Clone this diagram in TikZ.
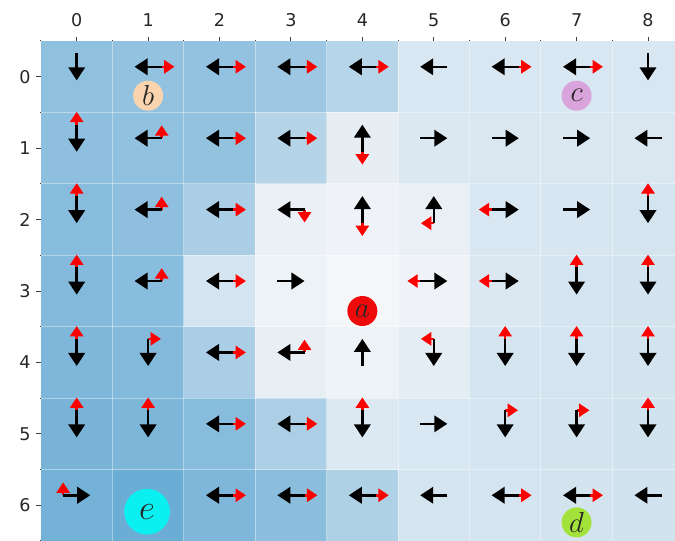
\documentclass[tikz,border=0pt]{standalone}
\usepackage{fontspec}
\setsansfont{DejaVu Sans}
\usetikzlibrary{
	arrows.meta,
	calc
}
\definecolor{valuehigh}{HTML}{6BADD5}
\definecolor{valuelow}{HTML}{F5F6F8}
\definecolor{spota}{HTML}{EE0A0A}
\definecolor{spotb}{HTML}{F9D4AE}
\definecolor{spotc}{HTML}{D9A3DC}
\definecolor{spotd}{HTML}{A3E23A}
\definecolor{spote}{HTML}{0AF0F0}
% one row of cell values: row, percents of valuehigh
\newcommand{\valuerow}[2]{%
	\foreach \p [count=\col from 0] in {#2}
		\fill[valuehigh!\p!valuelow] (\col-0.5,-#1-0.5) rectangle ++(1,1);
}
% one cell: column, row, greedy move, other moves
\newcommand{\cellmoves}[4]{%
	\coordinate (mid) at ($(#1,-#2)+(0,0.14)$);
	\coordinate (tail) at ($(mid)-0.19*(dir#3)$);
	\if\relax\detokenize{#4}\relax\else
		\foreach \m in {#4} {\draw[othermove] (tail) -- ($(tail)+0.18*(dir\m)$);}
	\fi
	\draw[bestmove] (tail) -- ($(tail)+0.38*(dir#3)$);
}

\begin{document}
\begin{tikzpicture}[
	x=1.5cm, y=1.5cm,
	bestmove/.style={-{Triangle[length=7.8pt, width=9.8pt]}, line width=1.5pt, black},
	othermove/.style={-{Triangle[length=6.2pt, width=7.8pt]}, line width=1.5pt, red},
	ticklabel/.style={font=\sffamily\fontsize{10.5}{12}\selectfont, text=black!85},
	tick/.style={line width=0.6pt, black!75},
	cellline/.style={white, opacity=0.4, line width=0.5pt},
	spot/.style={circle, inner sep=0pt, minimum size=6.3mm, font=\fontsize{19}{20}\selectfont, text=black!85}
	]
	\useasboundingbox (-1.074,-6.5) rectangle (8.378,1.075);
	\clip (-1.074,-6.5) rectangle (8.378,1.075);
	
	% Move directions
	\coordinate (dirL) at (-1,0);
	\coordinate (dirR) at (1,0);
	\coordinate (dirU) at (0,1);
	\coordinate (dirD) at (0,-1);
	
	% Value of each cell
	\valuerow{0}{74,72,72,64,45,21,21,21,21}
	\valuerow{1}{75,73,71,46,11,19,20,20,20}
	\valuerow{2}{79,75,55,8,4,9,21,22,23}
	\valuerow{3}{83,78,24,6,0,4,19,24,25}
	\valuerow{4}{86,83,55,10,6,12,23,24,25}
	\valuerow{5}{90,88,79,53,18,21,24,25,26}
	\valuerow{6}{94,100,86,77,51,23,24,25,26}
	\foreach \col in {0,...,7}
		\draw[cellline] (\col+0.5,-6.5) -- (\col+0.5,0.5);
	\foreach \row in {0,...,5}
		\draw[cellline] (-0.5,-\row-0.5) -- (8.5,-\row-0.5);
	
	% Axes
	\foreach \col in {0,...,8} {
		\draw[tick] (\col,0.5) -- (\col,0.55);
		\node[ticklabel] (top\col) at (\col,0.796) {\col};
	}
	\foreach \row in {0,...,6} {
		\draw[tick] (-0.5,-\row) -- (-0.57,-\row);
		\node[ticklabel] (left\row) at (-0.724,-\row) {\row};
	}
	\foreach \b in {-0.5,0.5,...,8.5}
		\draw[tick] (\b,0.5) -- (\b,0.515);
	\foreach \b in {-0.5,-1.5,...,-6.5}
		\draw[tick] (-0.5,\b) -- (-0.515,\b);
	
	% Moves
	\cellmoves{0}{0}{D}{} \cellmoves{1}{0}{L}{R} \cellmoves{2}{0}{L}{R}
	\cellmoves{3}{0}{L}{R} \cellmoves{4}{0}{L}{R} \cellmoves{5}{0}{L}{}
	\cellmoves{6}{0}{L}{R} \cellmoves{7}{0}{L}{R} \cellmoves{8}{0}{D}{}
	
	\cellmoves{0}{1}{D}{U} \cellmoves{1}{1}{L}{U} \cellmoves{2}{1}{L}{R}
	\cellmoves{3}{1}{L}{R} \cellmoves{4}{1}{U}{D} \cellmoves{5}{1}{R}{}
	\cellmoves{6}{1}{R}{} \cellmoves{7}{1}{R}{} \cellmoves{8}{1}{L}{}
	
	\cellmoves{0}{2}{D}{U} \cellmoves{1}{2}{L}{U} \cellmoves{2}{2}{L}{R}
	\cellmoves{3}{2}{L}{D} \cellmoves{4}{2}{U}{D} \cellmoves{5}{2}{U}{L}
	\cellmoves{6}{2}{R}{L} \cellmoves{7}{2}{R}{} \cellmoves{8}{2}{D}{U}
	
	\cellmoves{0}{3}{D}{U} \cellmoves{1}{3}{L}{U} \cellmoves{2}{3}{L}{R}
	\cellmoves{3}{3}{R}{} \cellmoves{5}{3}{R}{L}
	\cellmoves{6}{3}{R}{L} \cellmoves{7}{3}{D}{U} \cellmoves{8}{3}{D}{U}
	
	\cellmoves{0}{4}{D}{U} \cellmoves{1}{4}{D}{R} \cellmoves{2}{4}{L}{R}
	\cellmoves{3}{4}{L}{U} \cellmoves{4}{4}{U}{} \cellmoves{5}{4}{D}{L}
	\cellmoves{6}{4}{D}{U} \cellmoves{7}{4}{D}{U} \cellmoves{8}{4}{D}{U}
	
	\cellmoves{0}{5}{D}{U} \cellmoves{1}{5}{D}{U} \cellmoves{2}{5}{L}{R}
	\cellmoves{3}{5}{L}{R} \cellmoves{4}{5}{D}{U} \cellmoves{5}{5}{R}{}
	\cellmoves{6}{5}{D}{R} \cellmoves{7}{5}{D}{R} \cellmoves{8}{5}{D}{U}
	
	\cellmoves{0}{6}{R}{U} \cellmoves{2}{6}{L}{R}
	\cellmoves{3}{6}{L}{R} \cellmoves{4}{6}{L}{R} \cellmoves{5}{6}{L}{}
	\cellmoves{6}{6}{L}{R} \cellmoves{7}{6}{L}{R} \cellmoves{8}{6}{L}{}
	
	% Special states
	\node[spot, fill=spotb] (sb) at (1.0,-0.265) {$b$};
	\node[spot, fill=spotc] (sc) at (7.0,-0.265) {$c$};
	\node[spot, fill=spota] (sa) at (4.0,-3.28) {$a$};
	\node[spot, fill=spotd] (sd) at (7.0,-6.24) {$d$};
	\node[spot, fill=spote, minimum size=9.6mm, font=\fontsize{22}{23}\selectfont] (se) at (0.985,-6.09) {$e$};
\end{tikzpicture}
\end{document}
